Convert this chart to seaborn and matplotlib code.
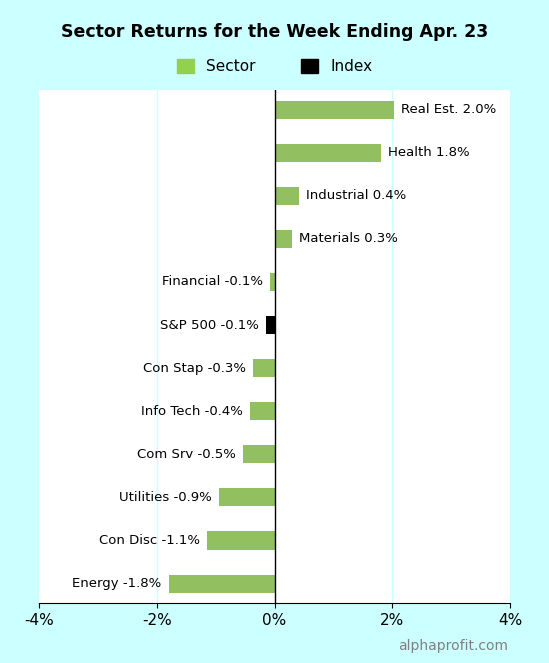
import matplotlib
matplotlib.use("Agg")
import matplotlib.pyplot as plt
import seaborn as sns
import pandas as pd
from matplotlib.patches import Patch

names = ["Real Est.", "Health", "Industrial", "Materials", "Financial", "S&P 500",
         "Con Stap", "Info Tech", "Com Srv", "Utilities", "Con Disc", "Energy"]
values = [2.03, 1.81, 0.42, 0.30, -0.07, -0.14, -0.36, -0.42, -0.53, -0.95, -1.15, -1.80]
labels = ["2.0%", "1.8%", "0.4%", "0.3%", "-0.1%", "-0.1%", "-0.3%", "-0.4%", "-0.5%", "-0.9%", "-1.1%", "-1.8%"]
kinds = ["Sector"] * 5 + ["Index"] + ["Sector"] * 6
xticks = [-4, -2, 0, 2, 4]
xticklabels = ["-4%", "-2%", "0%", "2%", "4%"]

bg = "#ccffff"
green = "#92d050"
df = pd.DataFrame({"name": names, "value": values, "kind": kinds})

fig = plt.figure(figsize=(5.49, 6.63), dpi=100, facecolor=bg)
ax = fig.add_axes([0.071, 0.0905, 0.858, 0.7735])
sns.barplot(data=df, x="value", y="name", hue="kind", palette={"Sector": green, "Index": "black"},
            dodge=False, width=0.42, ax=ax, legend=False, orient="h")
ax.set_xlim(-4, 4)
ax.set_ylim(11.45, -0.45)
ax.set_xticks(xticks)
ax.set_xticklabels(xticklabels, fontsize=11)
ax.set_yticks([])
ax.set_xlabel(""); ax.set_ylabel("")
for s in ["top", "right", "left"]:
    ax.spines[s].set_visible(False)
ax.spines["bottom"].set_color("black")
for x in [-2, 2]:
    ax.axvline(x, color=bg, lw=1, zorder=0)
ax.axvline(0, color="black", lw=1)
for i, (n, v, l) in enumerate(zip(names, values, labels)):
    if v >= 0:
        ax.text(v + 0.12, i, f"{n} {l}", va="center", ha="left", fontsize=9.5)
    else:
        ax.text(v - 0.12, i, f"{n} {l}", va="center", ha="right", fontsize=9.5)

fig.text(0.5, 0.952, "Sector Returns for the Week Ending Apr. 23", ha="center", va="center",
         fontsize=12.5, fontweight="bold")
handles = [Patch(color=green, label="Sector"), Patch(color="black", label="Index")]
fig.legend(handles=handles, loc="center", bbox_to_anchor=(0.5, 0.9), ncol=2, frameon=False,
           fontsize=11, handlelength=1.1, handleheight=1.1, columnspacing=3)
fig.text(0.925, 0.025, "alphaprofit.com", ha="right", va="center", fontsize=10, color="#808080")
fig.savefig("out.png", facecolor=bg)
